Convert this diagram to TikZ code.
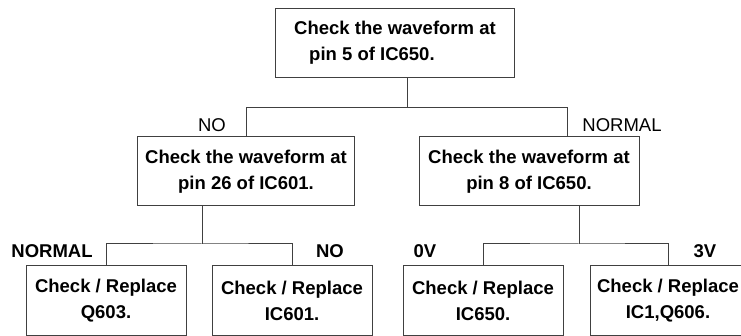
\documentclass[tikz,border=0pt]{standalone}
\usepackage{fontspec}
\setmainfont{Liberation Sans}
\usepackage{tikz}

\begin{document}
\begin{tikzpicture}[x = 1pt, y = -1pt, line width = 1pt,
    every node/.style = {font = \fontsize{18.5}{26}\selectfont},
    box/.style = {draw = black!75, align = center, inner sep = 0pt, font = \bfseries\fontsize{18.5}{26}\selectfont, minimum height = 69pt},
    tag/.style = {inner sep = 0pt}]
    \useasboundingbox (0, 0) rectangle (741, 336);
    \node [box, minimum width = 239pt, align = left] (top) at (395, 43) {Check the waveform at\\\hspace*{15pt}pin 5 of IC650.};
    \node [box, minimum width = 217pt] (midL) at (246, 171.5) {Check the waveform at\\pin 26 of IC601.};
    \node [box, minimum width = 220pt] (midR) at (529, 171.5) {Check the waveform at\\pin 8 of IC650.};
    \node [box, minimum width = 160pt] (q603) at (106, 300.5) {Check / Replace\\Q603.};
    \node [box, minimum width = 160pt] (ic601) at (292, 300.5) {Check / Replace\\IC601.};
    \node [box, minimum width = 160pt] (ic650) at (483, 300.5) {Check / Replace\\IC650.};
    \node [box, minimum width = 156pt] (ic1) at (668, 300.5) {Check / Replace\\IC1,Q606.};
    \node [tag] (noTop) at (212, 125) {NO};
    \node [tag] (normalTop) at (622, 125) {NORMAL};
    \node [tag, font = \bfseries\fontsize{18.5}{26}\selectfont] (normalL) at (52, 251) {NORMAL};
    \node [tag, font = \bfseries\fontsize{18.5}{26}\selectfont] (noL) at (330, 251) {NO};
    \node [tag, font = \bfseries\fontsize{18.5}{26}\selectfont] (zeroV) at (425, 251) {0V};
    \node [tag, font = \bfseries\fontsize{18.5}{26}\selectfont] (threeV) at (705, 251) {3V};
    \coordinate (forkTop) at (407, 108);
    \coordinate (dropR) at (567, 108);
    \coordinate (forkL) at (202, 244);
    \coordinate (forkR) at (579, 244);
    \draw [black!75] (top.south -| forkTop) -- (forkTop);
    \draw [black!75] (midL.north) |- (dropR) -- (dropR |- midR.north);
    \draw [black!75] (midL.south -| forkL) -- (forkL);
    \draw [black!75] (q603.north) |- (forkL) -| (ic601.north);
    \draw [black!75] (midR.south -| forkR) -- (forkR);
    \draw [black!75] (ic650.north) |- (forkR) -| (ic1.north);
\end{tikzpicture}
\end{document}
